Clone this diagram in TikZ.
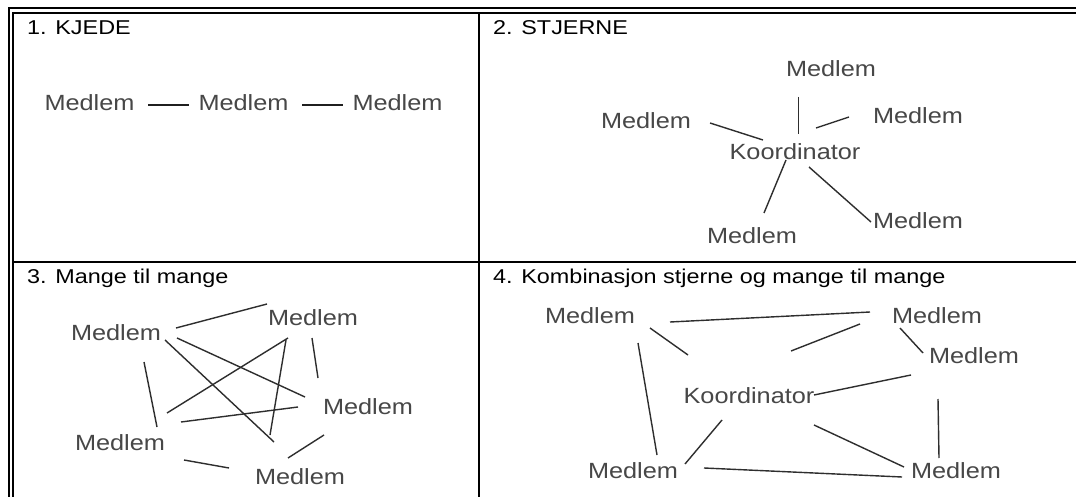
\documentclass[tikz,border=0pt]{standalone}
\usepackage{fontspec}
\setmainfont{Liberation Sans}
\usetikzlibrary{calc}
\newcommand\hsT[1]{\scalebox{1.17}[1]{#1}}
\newcommand\hsM[1]{\scalebox{1.15}[1]{#1}}
\begin{document}
\begin{tikzpicture}[x=1pt,y=-1pt,
  ttl/.style={anchor=base west,inner sep=0pt,font=\fontsize{20}{24}\selectfont,text=black},
  mem/.style={inner sep=0pt,font=\fontsize{22}{26}\selectfont,text=black!72},
  frame/.style={draw=black,line width=2pt},
  sep/.style={draw=black,line width=2.2pt},
  ln/.style={draw=black!82,line width=1.4pt},
  dashln/.style={draw=black!88,line width=2.2pt}]
\useasboundingbox (0,0) rectangle (1076,497);
\fill[white] (0,0) rectangle (1076,497);
% frame
\coordinate (o1) at (8.5,497); \coordinate (o2) at (8.5,8.5); \coordinate (o3) at (1076,8.5);
\coordinate (i1) at (13,497); \coordinate (i2) at (13,13); \coordinate (i3) at (1076,13);
\draw[frame] (o1) -- (o2) -- (o3);
\draw[frame] (i1) -- (i2) -- (i3);
\coordinate (vt) at (479,13); \coordinate (vb) at (479,497);
\coordinate (hl) at (13,262); \coordinate (hr) at (1076,262);
\draw[sep] (vt) -- (vb);
\draw[sep] (hl) -- (hr);
% titles
\node[ttl] (t1) at (27,35) {\hsT{1. KJEDE}};
\node[ttl] (t2) at (493,35) {\hsT{2. STJERNE}};
\node[ttl] (t3) at (27,283) {\hsT{3. Mange til mange}};
\node[ttl] (t4) at (493,283) {\hsT{4. Kombinasjon stjerne og mange til mange}};
% panel 1
\node[mem] (k1) at (89.5,103) {\hsM{Medlem}};
\node[mem] (k2) at (243.5,103) {\hsM{Medlem}};
\node[mem] (k3) at (397.5,103) {\hsM{Medlem}};
\draw[dashln] ($(k1)+(58.5,2)$) -- ($(k2)+(-54.5,2)$);
\draw[dashln] ($(k2)+(58.5,2)$) -- ($(k3)+(-54.5,2)$);
% panel 2
\node[mem] (stop) at (831,69) {\hsM{Medlem}};
\node[mem] (sleft) at (646,121) {\hsM{Medlem}};
\node[mem] (sright) at (918,116) {\hsM{Medlem}};
\node[mem] (sk) at (795,152) {\hsM{Koordinator}};
\node[mem] (sbl) at (752,236) {\hsM{Medlem}};
\node[mem] (sbr) at (918,221) {\hsM{Medlem}};
\draw[ln] ($(stop)+(-32.5,28)$) -- ($(sk)+(3.5,-18)$);
\draw[ln] ($(sleft)+(64,2)$) -- ($(sk)+(-32,-12)$);
\draw[ln] ($(sk)+(21,-24)$) -- ($(sright)+(-69,1)$);
\draw[ln] ($(sk)+(-9,8)$) -- ($(sbl)+(12,-23)$);
\draw[ln] ($(sk)+(14,15)$) -- ($(sbr)+(-47,1)$);
% panel 3
\node[mem] (mtl) at (116,333) {\hsM{Medlem}};
\node[mem] (mtr) at (313,318) {\hsM{Medlem}};
\node[mem] (mr) at (368,407) {\hsM{Medlem}};
\node[mem] (mbl) at (120,443) {\hsM{Medlem}};
\node[mem] (mb) at (300,477) {\hsM{Medlem}};
\draw[ln] ($(mtl)+(60,-5)$) -- ($(mtr)+(-46,-14)$);
\draw[ln] ($(mtl)+(61,5)$) -- ($(mr)+(-63,-10)$);
\draw[ln] ($(mtl)+(49,7)$) -- ($(mb)+(-26,-35)$);
\draw[ln] ($(mtl)+(28,29)$) -- ($(mbl)+(37,-16)$);
\draw[ln] ($(mtr)+(-25,20)$) -- ($(mbl)+(47,-30)$);
\draw[ln] ($(mtr)+(-27,22)$) -- ($(mb)+(-30,-42)$);
\draw[ln] ($(mtr)+(-1,20)$) -- ($(mr)+(-50,-29)$);
\draw[ln] ($(mbl)+(61,-21)$) -- ($(mr)+(-70,0)$);
\draw[ln] ($(mbl)+(64,17)$) -- ($(mb)+(-71,-9)$);
\draw[ln] ($(mr)+(-44,28)$) -- ($(mb)+(-12,-19)$);
% panel 4
\node[mem] (ctl) at (590,316) {\hsM{Medlem}};
\node[mem] (ctr) at (937,316) {\hsM{Medlem}};
\node[mem] (cr) at (974,356) {\hsM{Medlem}};
\node[mem] (ck) at (749,396) {\hsM{Koordinator}};
\node[mem] (cbl) at (633,471) {\hsM{Medlem}};
\node[mem] (cbr) at (956,471) {\hsM{Medlem}};
\draw[ln] ($(ctl)+(80,6)$) -- ($(ctr)+(-67,-4)$);
\draw[ln] ($(ctl)+(60,12)$) -- ($(ck)+(-61,-41)$);
\draw[ln] ($(ctl)+(48,27)$) -- ($(cbl)+(24,-16)$);
\draw[ln] ($(ctr)+(-77,8)$) -- ($(ck)+(42,-45)$);
\draw[ln] ($(ctr)+(-37,12)$) -- ($(cr)+(-51,-3)$);
\draw[ln] ($(cr)+(-63,19)$) -- ($(ck)+(65,-1)$);
\draw[ln] ($(cr)+(-36,43)$) -- ($(cbr)+(-17,-13)$);
\draw[ln] ($(ck)+(-27,24)$) -- ($(cbl)+(52,-7)$);
\draw[ln] ($(ck)+(65,29)$) -- ($(cbr)+(-52,-4)$);
\draw[ln] ($(cbl)+(71,-3)$) -- ($(cbr)+(-54,6)$);
\end{tikzpicture}
\end{document}
